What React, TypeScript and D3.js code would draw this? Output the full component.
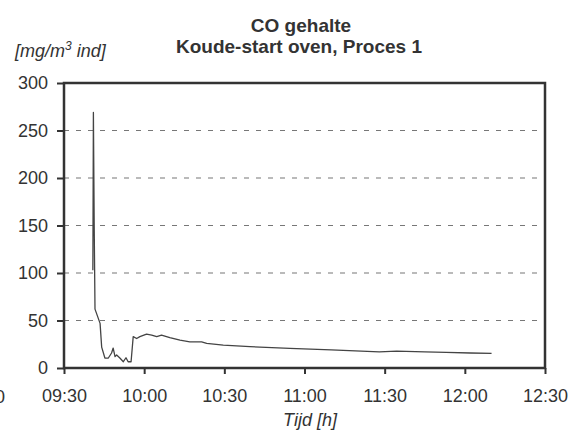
import React, { useEffect, useRef } from 'react';
import * as d3 from 'd3';

// minutes after 09:30 and CO concentration [mg/m3]
const minutes = [
  10.8, 11.0, 11.3, 11.6, 13.5, 14.1, 15.3, 16.6, 17.8, 18.4, 19.1, 19.7, 20.9, 22.2, 23.2, 24.0,
  25.1, 25.9, 27.2, 28.4, 30.9, 32.8, 34.7, 36.5, 39.6, 43.4, 47.1, 51.5, 53.4, 59.6, 69.6, 84.5,
  100, 118, 124.5, 135, 143, 152, 160,
];
const coValues = [
  103, 269, 150, 62, 47, 22, 10.5, 10.5, 15.8, 21, 12, 13.7, 10.5, 6.6, 10.8, 6.6,
  6.6, 33, 31, 33, 35.7, 34.7, 33, 34.7, 32, 29.4, 27.6, 27.6, 26, 24, 22.4, 20.7,
  19, 17, 17.8, 17, 16.5, 15.8, 15.4,
];
const xTickMinutes = [0, 30, 60, 90, 120, 150, 180];
const xTickLabels = ['09:30', '10:00', '10:30', '11:00', '11:30', '12:00', '12:30'];
const yTicks = [0, 50, 100, 150, 200, 250, 300];
const gridValues = [50, 100, 150, 200, 250];

const W = 574;
const H = 435;
const left = 64;
const right = 545;
const top = 83;
const bottom = 368;
const ink = '#333';
const font = '"Liberation Sans", Arial, sans-serif';

const App = () => {
  const svgRef = useRef(null);

  useEffect(() => {
    const svg = d3.select(svgRef.current);
    svg.selectAll('*').remove();

    const x = d3.scaleLinear().domain([0, 180]).range([left, right]);
    const y = d3.scaleLinear().domain([0, 300]).range([bottom, top]);

    // titles
    svg.append('text')
      .attr('x', 301).attr('y', 32)
      .attr('text-anchor', 'middle')
      .attr('font-weight', 'bold').attr('font-size', 19)
      .attr('fill', ink).attr('font-family', font)
      .text('CO gehalte');
    svg.append('text')
      .attr('x', 299).attr('y', 53)
      .attr('text-anchor', 'middle')
      .attr('font-weight', 'bold').attr('font-size', 19)
      .attr('fill', ink).attr('font-family', font)
      .text('Koude-start oven, Proces 1');

    const unit = svg.append('text')
      .attr('x', 15).attr('y', 57)
      .attr('font-style', 'italic').attr('font-size', 18)
      .attr('fill', ink).attr('font-family', font);
    unit.append('tspan').text('[mg/m');
    unit.append('tspan').attr('font-size', 12).attr('dy', -7).text('3');
    unit.append('tspan').attr('dy', 7).text(' ind]');

    // dashed grid
    svg.append('g')
      .selectAll('line')
      .data(gridValues)
      .join('line')
      .attr('x1', left).attr('x2', right)
      .attr('y1', (d) => y(d)).attr('y2', (d) => y(d))
      .attr('stroke', '#777').attr('stroke-width', 1.2)
      .attr('stroke-dasharray', '5,7');

    // y axis
    const yAxis = svg.append('g')
      .attr('transform', `translate(${left},0)`)
      .call(d3.axisLeft(y).tickValues(yTicks).tickSize(7).tickPadding(9));
    yAxis.select('.domain').remove();
    yAxis.selectAll('line').attr('stroke', ink).attr('stroke-width', 2);
    yAxis.selectAll('text')
      .attr('font-size', 18).attr('font-family', font).attr('fill', ink);

    // x axis
    const xAxis = svg.append('g')
      .attr('transform', `translate(0,${bottom})`)
      .call(
        d3.axisBottom(x)
          .tickValues(xTickMinutes)
          .tickSize(6)
          .tickPadding(15)
          .tickFormat((d, i) => xTickLabels[i])
      );
    xAxis.select('.domain').remove();
    xAxis.selectAll('line').attr('stroke', ink).attr('stroke-width', 2);
    xAxis.selectAll('text')
      .attr('font-size', 18).attr('font-family', font).attr('fill', ink);

    // frame
    svg.append('rect')
      .attr('x', left).attr('y', top)
      .attr('width', right - left).attr('height', bottom - top)
      .attr('fill', 'none').attr('stroke', ink).attr('stroke-width', 2.5);

    // CO curve
    const pts = minutes.map((m, i) => [m, coValues[i]]);
    svg.append('path')
      .datum(pts)
      .attr('fill', 'none')
      .attr('stroke', '#444')
      .attr('stroke-width', 1.3)
      .attr('stroke-linejoin', 'round')
      .attr('d', d3.line().x((d) => x(d[0])).y((d) => y(d[1])));

    svg.append('text')
      .attr('x', 310).attr('y', 426)
      .attr('text-anchor', 'middle')
      .attr('font-style', 'italic').attr('font-size', 18)
      .attr('fill', ink).attr('font-family', font)
      .text('Tijd [h]');

    // label of the neighbouring chart, cut off at the left edge as in the scan
    svg.append('text')
      .attr('x', 5).attr('y', 403)
      .attr('text-anchor', 'end')
      .attr('font-size', 18)
      .attr('fill', ink).attr('font-family', font)
      .text('0');
  }, []);

  return (
    <svg
      ref={svgRef}
      width={W}
      height={H}
      style={{ position: 'absolute', left: 0, top: 0, background: '#fff' }}
    />
  );
};

export default App;
